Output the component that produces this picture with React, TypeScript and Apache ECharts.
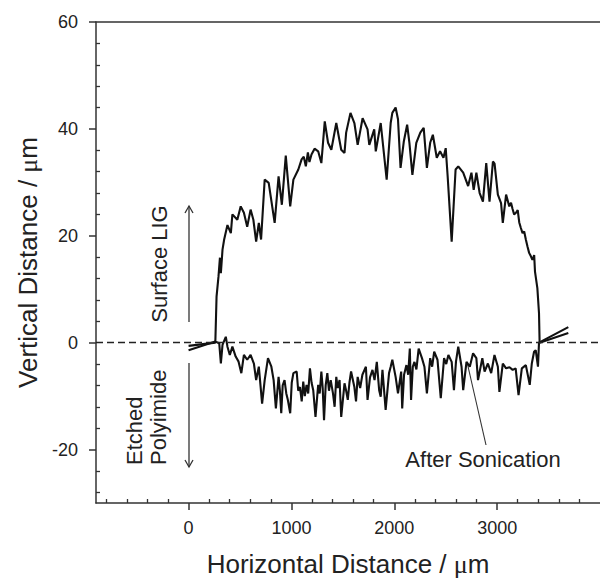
import React, { useEffect, useRef } from "react";
import * as echarts from "echarts";

// Surface LIG profile (before sonication)
const upperX = [0, 260, 272, 291, 305, 314, 330, 346, 378, 411, 426, 474, 507, 538, 570, 603, 630, 657, 683, 705, 740, 779, 837, 875, 907, 945, 988, 1019, 1067, 1099, 1120, 1140, 1160, 1175, 1195, 1225, 1260, 1291, 1324, 1356, 1388, 1436, 1484, 1516, 1532, 1574, 1612, 1644, 1692, 1740, 1757, 1805, 1820, 1868, 1926, 1965, 1981, 2013, 2036, 2061, 2093, 2125, 2147, 2176, 2214, 2253, 2286, 2317, 2349, 2375, 2413, 2445, 2478, 2500, 2519, 2558, 2596, 2622, 2670, 2718, 2750, 2772, 2798, 2830, 2862, 2894, 2926, 2959, 2975, 3007, 3038, 3055, 3087, 3118, 3135, 3150, 3165, 3183, 3200, 3215, 3230, 3247, 3263, 3279, 3295, 3311, 3327, 3343, 3360, 3368, 3391, 3407, 3413, 3692];
const upperY = [-0.6, 0, 8.6, 12.4, 15.9, 13, 17.4, 19.3, 22, 20.5, 24, 23, 25.5, 24.3, 21.7, 24.9, 23, 18.9, 22.4, 19.3, 30.5, 29.9, 22.4, 31.1, 25.8, 35, 25.5, 30.5, 32.4, 34.3, 34.8, 33, 35.6, 33.8, 35.2, 36.3, 35.8, 33.6, 41.4, 37.4, 36.1, 41.1, 36.1, 35.5, 39.3, 43, 41.1, 37, 42, 39.9, 37, 39.9, 35.8, 41.1, 30.5, 41.1, 43, 44, 41.8, 32.7, 37.7, 40.8, 37.4, 31.4, 37.4, 39.3, 40.2, 32.7, 37.4, 38.9, 34.6, 35.8, 34.6, 36.4, 31.1, 18.9, 32.4, 33, 31.8, 29.3, 31.8, 28.6, 31.8, 28, 26.4, 33.6, 26.4, 33.9, 33.5, 27.7, 26.1, 22.4, 27.7, 25.5, 26.2, 25, 24, 24.3, 24.8, 22.5, 21.5, 20.5, 20.8, 19.3, 18, 16.8, 16.2, 15.5, 16.4, 13.3, 10.2, 5.5, 0, 1.8];

// Etched polyimide profile (after sonication)
const lowerX = [0, 260, 298, 314, 330, 362, 378, 401, 426, 458, 485, 513, 538, 570, 603, 635, 657, 683, 715, 740, 772, 805, 827, 849, 875, 888, 901, 915, 933, 950, 965, 988, 1003, 1019, 1051, 1066, 1083, 1100, 1115, 1130, 1147, 1163, 1180, 1196, 1212, 1234, 1260, 1275, 1291, 1304, 1317, 1333, 1349, 1365, 1382, 1404, 1420, 1436, 1450, 1468, 1484, 1516, 1532, 1548, 1564, 1580, 1612, 1628, 1644, 1668, 1690, 1724, 1740, 1764, 1788, 1808, 1830, 1853, 1868, 1885, 1916, 1949, 1965, 1981, 2013, 2036, 2067, 2077, 2095, 2118, 2135, 2151, 2163, 2180, 2196, 2215, 2237, 2269, 2293, 2317, 2349, 2368, 2388, 2420, 2452, 2484, 2505, 2526, 2558, 2580, 2600, 2622, 2654, 2670, 2702, 2734, 2766, 2798, 2814, 2856, 2878, 2910, 2942, 2974, 3007, 3022, 3055, 3087, 3120, 3151, 3180, 3208, 3240, 3279, 3317, 3337, 3359, 3375, 3397, 3407, 3692];
const lowerY = [-1.4, 0.2, -0.1, -3.9, -0.4, 1.1, -0.75, -2.3, -0.75, -2.6, -3.5, -5.7, -2.3, -3.2, -2.3, -3.9, -7, -4.5, -11.4, -7, -2.9, -4.5, -7, -12.3, -6.4, -9, -13.2, -8, -7, -9.5, -10.7, -13.2, -7.5, -5.7, -5.4, -9, -8.3, -11, -7.3, -10, -7.9, -9.5, -4.8, -7.5, -8.9, -13.9, -7.9, -9.5, -5.4, -8.5, -14.5, -8, -5.7, -9, -7, -9.5, -12, -6.4, -8.5, -7, -13.9, -7.6, -9, -10.7, -7.5, -5.4, -8.3, -11, -6.4, -8.5, -6, -4.5, -10.7, -6.5, -5.1, -7, -3.6, -8.9, -10.1, -5.1, -12.6, -5.7, -4.5, -3.2, -6.4, -9.5, -5.4, -12.3, -6, -4.2, -6, -1.1, -10.7, -4.5, -3.6, -5, -1.1, -2.9, -4.5, -9.5, -2.9, -4.5, -1.7, -3.2, -10.4, -2.9, -4, -2.3, -3.6, -8.9, -3.5, -0.75, -4.5, -8.9, -3.6, -4.5, -2, -2.9, -7, -2.9, -5.4, -3.9, -5.7, -2.3, -4.5, -9.2, -3.9, -4.8, -4.6, -5.1, -4.8, -9.8, -4.8, -4.2, -7.9, -3.9, -1.7, -1.4, -4.5, 0, 2.9];

const xMajorTicks = [0, 1000, 2000, 3000];
const xMinorTicks = [-800, -600, -400, -200, 200, 400, 600, 800, 1200, 1400, 1600, 1800, 2200, 2400, 2600, 2800, 3200, 3400, 3600, 3800];
const yMajorTicks = [-20, 0, 20, 40, 60];
const yMinorTicks = [-28, -24, -16, -12, -8, -4, 4, 8, 12, 16, 24, 28, 32, 36, 44, 48, 52, 56];

const FONT = "'Liberation Sans', Arial, Helvetica, sans-serif";
const AXIS_COLOR = "#333";
const TEXT_COLOR = "#222";

export default function App() {
  const ref = useRef<HTMLDivElement>(null);

  useEffect(() => {
    if (!ref.current) return;
    const chart = echarts.init(ref.current, undefined, { renderer: "svg" });
    const upper = upperX.map((x, i) => [x, upperY[i]]);
    const lower = lowerX.map((x, i) => [x, lowerY[i]]);
    const axisLine = { show: true, onZero: false, lineStyle: { color: AXIS_COLOR, width: 1.5 } };
    const noLine = { show: false, onZero: false };
    const nameStyle = {
      fontSize: 26,
      fontFamily: FONT,
      color: TEXT_COLOR,
      rich: { mu: { fontSize: 26, fontFamily: "'Liberation Serif', 'DejaVu Serif', serif", color: TEXT_COLOR } },
    };
    const plain = (v: number) => String(v);
    const option: any = {
      animation: false,
      backgroundColor: "#ffffff",
      grid: { left: 96, top: 22, width: 509, height: 481, containLabel: false },
      xAxis: [
        {
          type: "value", min: -900, max: 4000, position: "bottom",
          axisLine,
          axisTick: { show: true, inside: false, length: 7, customValues: xMajorTicks, lineStyle: { color: AXIS_COLOR, width: 1.5 } },
          axisLabel: { show: true, customValues: xMajorTicks, formatter: plain, margin: 16, fontSize: 18, color: TEXT_COLOR, fontFamily: FONT },
          splitLine: { show: false },
          name: "Horizontal Distance / {mu|μ}m",
          nameLocation: "middle",
          nameGap: 48,
          nameTextStyle: nameStyle,
        },
        {
          type: "value", min: -900, max: 4000, position: "bottom",
          axisLine: noLine,
          axisTick: { show: true, inside: true, length: 4, customValues: xMinorTicks, lineStyle: { color: AXIS_COLOR, width: 1.3 } },
          axisLabel: { show: false },
          splitLine: { show: false },
        },
        {
          type: "value", min: -900, max: 4000, position: "top",
          axisLine,
          axisTick: { show: false },
          axisLabel: { show: false },
          splitLine: { show: false },
        },
      ],
      yAxis: [
        {
          type: "value", min: -30, max: 60, position: "left",
          axisLine,
          axisTick: { show: true, inside: false, length: 7, customValues: yMajorTicks, lineStyle: { color: AXIS_COLOR, width: 1.5 } },
          axisLabel: { show: true, customValues: yMajorTicks, formatter: plain, margin: 18, fontSize: 18, color: TEXT_COLOR, fontFamily: FONT },
          splitLine: { show: false },
          name: "Vertical Distance / {mu|μ}m",
          nameLocation: "middle",
          nameGap: 55,
          nameTextStyle: nameStyle,
        },
        {
          type: "value", min: -30, max: 60, position: "left",
          axisLine: noLine,
          axisTick: { show: true, inside: true, length: 4, customValues: yMinorTicks, lineStyle: { color: AXIS_COLOR, width: 1.3 } },
          axisLabel: { show: false },
          splitLine: { show: false },
        },
      ],
      series: [
        {
          name: "Surface LIG",
          type: "line",
          xAxisIndex: 0,
          yAxisIndex: 0,
          data: upper,
          symbol: "none",
          showSymbol: false,
          lineStyle: { color: "#111", width: 2.1 },
          markLine: {
            silent: true,
            symbol: "none",
            label: { show: false },
            lineStyle: { type: [7, 4], color: "#222", width: 1.3 },
            data: [{ yAxis: 0 }],
          },
        },
        {
          name: "After Sonication",
          type: "line",
          xAxisIndex: 0,
          yAxisIndex: 0,
          data: lower,
          symbol: "none",
          showSymbol: false,
          lineStyle: { color: "#111", width: 2.1 },
        },
      ],
      graphic: [
        { type: "text", x: 159, y: 264, rotation: Math.PI / 2, style: { text: "Surface LIG", fontSize: 22, fontFamily: FONT, fill: TEXT_COLOR, align: "center", verticalAlign: "middle" } },
        { type: "text", x: 134, y: 465, rotation: Math.PI / 2, style: { text: "Etched", fontSize: 22, fontFamily: FONT, fill: TEXT_COLOR, align: "left", verticalAlign: "middle" } },
        { type: "text", x: 158, y: 465, rotation: Math.PI / 2, style: { text: "Polyimide", fontSize: 22, fontFamily: FONT, fill: TEXT_COLOR, align: "left", verticalAlign: "middle" } },
        { type: "line", shape: { x1: 189, y1: 322, x2: 189, y2: 206 }, style: { stroke: "#333", lineWidth: 1.3 } },
        { type: "polyline", shape: { points: [[185, 213], [189, 206], [193, 213]] }, style: { stroke: "#333", lineWidth: 1.3, fill: "none" } },
        { type: "line", shape: { x1: 189, y1: 363, x2: 189, y2: 467 }, style: { stroke: "#333", lineWidth: 1.3 } },
        { type: "polyline", shape: { points: [[185, 460], [189, 467], [193, 460]] }, style: { stroke: "#333", lineWidth: 1.3, fill: "none" } },
        { type: "line", shape: { x1: 467, y1: 362, x2: 486, y2: 445 }, style: { stroke: "#333", lineWidth: 1.1 } },
        { type: "text", x: 483, y: 459, style: { text: "After Sonication", fontSize: 22, fontFamily: FONT, fill: TEXT_COLOR, align: "center", verticalAlign: "middle" } },
      ],
    };
    chart.setOption(option);
    return () => chart.dispose();
  }, []);

  return <div ref={ref} style={{ position: "absolute", left: 0, top: 0, width: 600, height: 584, overflow: "hidden" }} />;
}
